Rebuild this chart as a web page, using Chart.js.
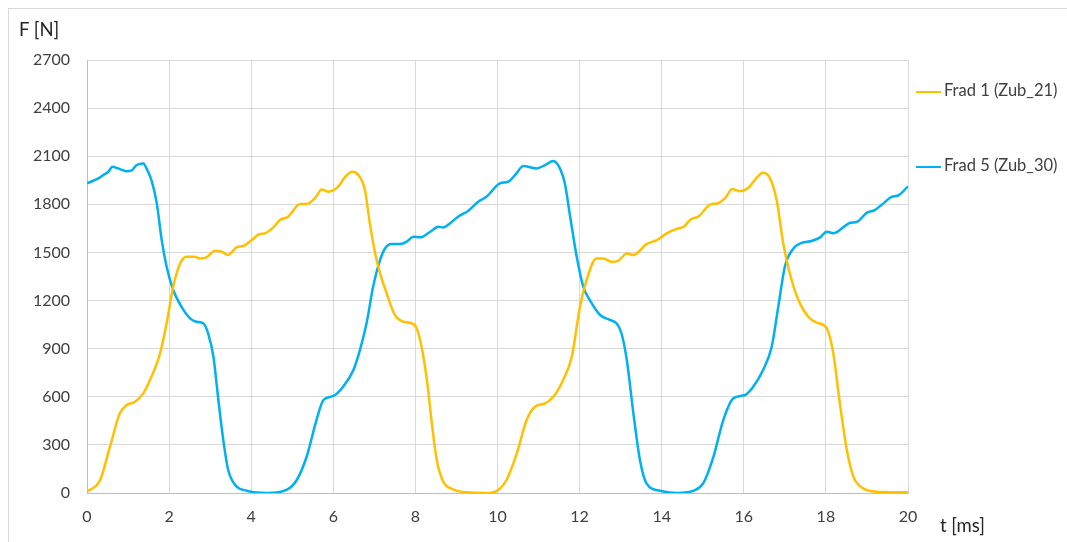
<!DOCTYPE html>
<html>
<head>
<meta charset="utf-8">
<script src="https://cdn.jsdelivr.net/npm/chart.js@4"></script>
<style>
  body { margin: 0; background: #fff; font-family: Lato, "Open Sans", sans-serif; }
  #wrap { position: relative; width: 1067px; height: 542px; }
  #rahmen { position: absolute; left: 8px; top: 8px; width: 1070px; height: 540px;
            border-left: 1px solid #d9d9d9; border-top: 1px solid #d9d9d9; }
  .titel { position: absolute; color: #262626; font-size: 18.5px; }
  .leg { position: absolute; left: 916px; font-size: 16.5px; color: #404040; white-space: nowrap; }
  .leg span { display: inline-block; width: 25px; height: 2px; vertical-align: middle; margin-right: 3px; }
</style>
</head>
<body>
<div id="wrap">
  <div id="rahmen"></div>
  <canvas id="chart1" width="1067" height="542"></canvas>
  <div class="titel" style="left:19px; top:18px;">F [N]</div>
  <div class="titel" style="left:940px; top:514px;">t [ms]</div>
  <div class="leg" style="top:80px;"><span style="background:#FFC000"></span>Frad 1 (Zub_21)</div>
  <div class="leg" style="top:155px;"><span style="background:#00B0F0"></span>Frad 5 (Zub_30)</div>
</div>
<script>
// Frad 1 (Zub_21)
const zeit1 = [0, 0.32, 0.56, 0.8, 0.97, 1.17, 1.37, 1.57, 1.78, 1.94, 2.1, 2.27, 2.43, 2.63, 2.75, 2.91,
  3.12, 3.28, 3.44, 3.64, 3.81, 4.01, 4.21, 4.33, 4.54, 4.7, 4.9, 5.19, 5.35, 5.55, 5.72, 5.88, 6.12, 6.28,
  6.47, 6.61, 6.77, 6.89, 7.02, 7.14, 7.3, 7.5, 7.71, 7.87, 8.03, 8.15, 8.28, 8.4, 8.52, 8.68, 8.92, 9.25,
  9.74, 10.02, 10.22, 10.47, 10.71, 10.91, 11.16, 11.36, 11.6, 11.81, 12.01, 12.17, 12.41, 12.58, 12.78,
  12.94, 13.15, 13.31, 13.63, 13.88, 14.12, 14.4, 14.54, 14.7, 14.9, 15.19, 15.35, 15.55, 15.72, 15.9,
  16.12, 16.31, 16.47, 16.64, 16.8, 16.96, 17.12, 17.33, 17.57, 17.78, 18.02, 18.18, 18.34, 18.51, 18.67,
  18.91, 19.33, 20];
const kraft1 = [8, 81, 289, 497, 549, 569, 621, 725, 871, 1058, 1286, 1432, 1473, 1473, 1463, 1469,
  1511, 1505, 1484, 1532, 1540, 1577, 1615, 1619, 1656, 1702, 1723, 1802, 1802, 1837, 1893, 1879, 1910, 1968,
  2003, 1983, 1889, 1681, 1494, 1370, 1245, 1110, 1068, 1062, 1027, 912, 705, 435, 206, 70, 23, 4,
  0, 19, 81, 247, 455, 538, 559, 600, 705, 850, 1162, 1328, 1463, 1463, 1442,
  1448, 1494, 1484, 1552, 1577, 1619, 1650, 1660, 1705, 1725, 1800, 1805, 1840, 1895, 1882,
  1905, 1965, 1997, 1962, 1827, 1557, 1370, 1203, 1099, 1062, 1027, 871, 559, 268, 102,
  29, 6, 4];

// Frad 5 (Zub_30)
const zeit5 = [0, 0.15, 0.28, 0.4, 0.52, 0.62, 0.76, 0.96, 1.09, 1.21, 1.37, 1.45, 1.57, 1.7, 1.82, 1.94,
  2.1, 2.3, 2.51, 2.67, 2.83, 2.95, 3.08, 3.2, 3.32, 3.44, 3.61, 3.89, 4.4, 4.86, 5.11, 5.35, 5.59, 5.76,
  6.0, 6.24, 6.49, 6.65, 6.81, 6.97, 7.14, 7.26, 7.42, 7.62, 7.79, 7.95, 8.11, 8.36, 8.56, 8.68, 8.84,
  9.04, 9.29, 9.53, 9.73, 10.06, 10.26, 10.43, 10.63, 10.95, 11.16, 11.36, 11.52, 11.64, 11.77, 11.93,
  12.09, 12.25, 12.5, 12.74, 12.9, 13.02, 13.15, 13.31, 13.47, 13.63, 13.96, 14.4, 14.77, 15.01, 15.26,
  15.5, 15.74, 16.03, 16.23, 16.47, 16.68, 16.84, 17.0, 17.21, 17.41, 17.65, 17.86, 18.02, 18.18, 18.42,
  18.59, 18.75, 19.0, 19.19, 19.4, 19.6, 19.76, 20];
const kraft5 = [1931, 1947, 1962, 1983, 2003, 2034, 2024, 2007, 2012, 2045, 2055, 2024, 1951, 1806, 1577, 1411,
  1266, 1162, 1089, 1068, 1058, 996, 850, 580, 330, 143, 50, 14, 0, 19, 81, 226, 455, 580,
  605, 663, 767, 892, 1058, 1286, 1453, 1525, 1552, 1552, 1567, 1598, 1594, 1629, 1660, 1656, 1681,
  1723, 1760, 1816, 1847, 1931, 1941, 1983, 2039, 2024, 2045, 2070, 2024, 1931, 1723, 1473,
  1286, 1203, 1110, 1079, 1058, 996, 829, 497, 206, 60, 14, 0, 14, 60, 226,
  455, 590, 611, 663, 767, 912, 1162, 1411, 1525, 1560, 1571, 1594, 1629, 1620, 1656,
  1685, 1690, 1748, 1764, 1806, 1847, 1855, 1912];

const xMin = 0, xMax = 20, xStep = 2;
const yMin = 0, yMax = 2700, yStep = 300;

function punkte(zeit, kraft) {
    return zeit.map(function (t, i) { return { x: t, y: kraft[i] }; });
}

// Achsenbeschriftung ohne Tausendertrennzeichen
function ohneTrenner(wert) {
    return String(wert);
}

new Chart("chart1", {
    type: "line",
    data: {
        datasets: [{
            label: "Frad 1 (Zub_21)",
            data: punkte(zeit1, kraft1),
            borderColor: "#FFC000",
            borderWidth: 2.5,
            pointRadius: 0,
            cubicInterpolationMode: "monotone"
        }, {
            label: "Frad 5 (Zub_30)",
            data: punkte(zeit5, kraft5),
            borderColor: "#00B0F0",
            borderWidth: 2.5,
            pointRadius: 0,
            cubicInterpolationMode: "monotone"
        }]
    },
    options: {
        responsive: false,
        animation: false,
        layout: { padding: { left: 0, right: 159, top: 60, bottom: 0 } },
        plugins: { legend: { display: false }, tooltip: { enabled: false } },
        scales: {
            x: {
                type: "linear",
                min: xMin, max: xMax,
                ticks: { stepSize: xStep, padding: 14, color: "#404040", callback: ohneTrenner,
                         font: { family: "Lato", size: 16 } },
                grid: { color: "#d9d9d9", drawTicks: false },
                border: { color: "#bfbfbf" },
                afterFit: function (s) { s.height = 49; }
            },
            y: {
                min: yMin, max: yMax,
                ticks: { stepSize: yStep, padding: 17, color: "#404040", callback: ohneTrenner,
                         font: { family: "Lato", size: 16 } },
                grid: { color: "#d9d9d9", drawTicks: false },
                border: { color: "#bfbfbf" },
                afterFit: function (s) { s.width = 87; }
            }
        }
    }
});
</script>
</body>
</html>
